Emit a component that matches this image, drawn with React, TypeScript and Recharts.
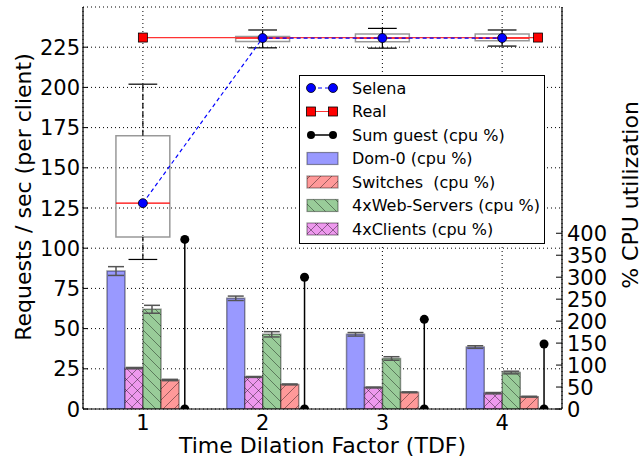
import React from 'react';
import {
  ComposedChart, Bar, Line, XAxis, YAxis, CartesianGrid, ErrorBar,
  ReferenceArea, ReferenceLine, Legend,
} from 'recharts';

// ---------- data ----------
const tdf = ['1', '2', '3', '4'];
const tdfNum = [1, 2, 3, 4];
const dom0 = [314, 252, 170, 141];
const dom0Err = [10, 5, 4, 3];
const clients = [93, 73, 49, 36];
const clientsErr = [1.5, 1, 1, 1.5];
const webServers = [227, 170, 115, 83];
const webErr = [9, 6, 4, 3];
const switches = [66, 56, 38, 28];
const switchesErr = [1.5, 1, 1, 1];
const sumGuest = [386, 300, 204, 148];
const stemX = [1.35, 2.35, 3.35, 4.35];
const selena = [128, 230.7, 230.7, 230.7];
const realX = [1, 4.3];
const realY = [231, 231];
const boxLow = [93, 224.6, 224.4, 225.7];
const boxQ1 = [107, 228.6, 228.4, 229.0];
const boxMed = [128, 230.7, 230.7, 230.7];
const boxQ3 = [170, 231.7, 233.2, 233.2];
const boxHigh = [202, 235.7, 236.7, 235.7];
const rpsTicks = [0, 25, 50, 75, 100, 125, 150, 175, 200, 225];
const cpuTicks = [0, 50, 100, 150, 200, 250, 300, 350, 400];

const BOX_HALF = 0.225;
const CAP_HALF = 0.12;
const FONT = 'DejaVu Sans';
const TICK_FS = 21;
const LABEL_FS = 22;

const rows = tdf.map((t, i) => ({
  tdf: t,
  dom0: dom0[i], dom0Err: dom0Err[i],
  clients: clients[i], clientsErr: clientsErr[i],
  web: webServers[i], webErr: webErr[i],
  switches: switches[i], switchesErr: switchesErr[i],
}));
const selenaData = tdfNum.map((x, i) => ({ x, v: selena[i] }));
const realData = realX.map((x, i) => ({ x, v: realY[i] }));

const C_BLUE = '#9999ff';
const C_RED = '#ff9999';
const C_GREEN = '#99cc99';
const C_PURPLE = '#ee99ee';
const EDGE = 'rgba(0,0,0,0.4)';

const LeftTick = (p: any) => (
  <g>
    <line x1={p.x + 3} x2={p.x + 8} y1={p.y} y2={p.y} stroke="#000" />
    <text x={p.x} y={p.y} dy="0.36em" textAnchor="end" fontSize={TICK_FS} fontFamily={FONT} fill="#000">
      {p.payload.value}
    </text>
  </g>
);
const RightTick = (p: any) => (
  <g>
    <line x1={p.x - 5} x2={p.x - 11} y1={p.y} y2={p.y} stroke="#000" />
    <text x={p.x} y={p.y} dy="0.36em" textAnchor="start" fontSize={TICK_FS} fontFamily={FONT} fill="#000">
      {p.payload.value}
    </text>
  </g>
);
const BottomTick = (p: any) => (
  <text x={p.x} y={p.y} dy={21} textAnchor="middle" fontSize={TICK_FS} fontFamily={FONT} fill="#000">
    {p.payload.value}
  </text>
);

const BlueDot = (p: any) =>
  p.cx == null ? <g key={p.index} /> : (
    <circle key={p.index} cx={p.cx} cy={p.cy} r={4.5} fill="#0000ff" stroke="#000" strokeWidth={0.8} />
  );
const RedSquare = (p: any) =>
  p.cx == null ? <g key={p.index} /> : (
    <rect key={p.index} x={p.cx - 4.5} y={p.cy - 4.5} width={9} height={9} fill="#ff0000" stroke="#000" strokeWidth={0.8} />
  );
const BlackDot = (p: any) =>
  p.cx == null ? <g key={p.index} /> : (
    <circle key={p.index} cx={p.cx} cy={p.cy} r={4.5} fill="#000" />
  );

const legendItems = [
  { kind: 'blue', label: 'Selena' },
  { kind: 'real', label: 'Real' },
  { kind: 'sum', label: 'Sum guest (cpu %)' },
  { kind: 'bar', fill: C_BLUE, label: 'Dom-0 (cpu %)' },
  { kind: 'bar', fill: 'url(#hFwd)', label: 'Switches  (cpu %)' },
  { kind: 'bar', fill: 'url(#hBack)', label: '4xWeb-Servers (cpu %)' },
  { kind: 'bar', fill: 'url(#hCross)', label: '4xClients (cpu %)' },
];

const LegendBox = () => (
  <div style={{ width: 246, height: 169, border: '1px solid #000', background: '#fff', boxSizing: 'border-box' }}>
    <svg width={244} height={167} style={{ display: 'block' }}>
      {legendItems.map((it, i) => {
        const cy = 12 + i * 23.5;
        let icon: React.ReactNode = null;
        if (it.kind === 'blue') {
          icon = (
            <g>
              <line x1={11} x2={33} y1={cy} y2={cy} stroke="#0000ff" strokeDasharray="4 3" />
              <circle cx={11} cy={cy} r={4.5} fill="#0000ff" stroke="#000" strokeWidth={0.8} />
              <circle cx={33} cy={cy} r={4.5} fill="#0000ff" stroke="#000" strokeWidth={0.8} />
            </g>
          );
        } else if (it.kind === 'real') {
          icon = (
            <g>
              <line x1={11} x2={33} y1={cy} y2={cy} stroke="#ff3333" />
              <rect x={6.5} y={cy - 4.5} width={9} height={9} fill="#ff0000" stroke="#000" strokeWidth={0.8} />
              <rect x={28.5} y={cy - 4.5} width={9} height={9} fill="#ff0000" stroke="#000" strokeWidth={0.8} />
            </g>
          );
        } else if (it.kind === 'sum') {
          icon = (
            <g>
              <line x1={11} x2={33} y1={cy} y2={cy} stroke="#000" strokeWidth={1.5} />
              <circle cx={11} cy={cy} r={4} fill="#000" />
              <circle cx={33} cy={cy} r={4} fill="#000" />
            </g>
          );
        } else {
          icon = <rect x={7} y={cy - 6} width={31} height={12} fill={it.fill} stroke={EDGE} strokeWidth={1.2} />;
        }
        return (
          <g key={i}>
            {icon}
            <text x={52} y={cy} dy="0.36em" fontSize={16} fontFamily={FONT} fill="#000" style={{ whiteSpace: 'pre' }}>
              {it.label}
            </text>
          </g>
        );
      })}
    </svg>
  </div>
);

export default function App() {
  return (
    <div style={{ position: 'absolute', left: 0, top: 0, background: '#fff' }}>
      <ComposedChart
        width={642}
        height={462}
        data={rows}
        margin={{ top: 7, right: 0, bottom: 0, left: 0 }}
        barGap={0}
        barSize={18}
      >
        <defs>
          <pattern id="hFwd" patternUnits="userSpaceOnUse" width={11} height={11}>
            <rect width={11} height={11} fill={C_RED} />
            <path d="M0,11 L11,0 M-3,3 L3,-3 M8,14 L14,8" stroke="#000" strokeOpacity={0.4} strokeWidth={1} />
          </pattern>
          <pattern id="hBack" patternUnits="userSpaceOnUse" width={11} height={11}>
            <rect width={11} height={11} fill={C_GREEN} />
            <path d="M0,0 L11,11 M-3,8 L3,14 M8,-3 L14,3" stroke="#000" strokeOpacity={0.4} strokeWidth={1} />
          </pattern>
          <pattern id="hCross" patternUnits="userSpaceOnUse" width={11} height={11}>
            <rect width={11} height={11} fill={C_PURPLE} />
            <path d="M0,11 L11,0 M-3,3 L3,-3 M8,14 L14,8 M0,0 L11,11 M-3,8 L3,14 M8,-3 L14,3" stroke="#000" strokeOpacity={0.4} strokeWidth={1} />
          </pattern>
        </defs>

        <XAxis
          xAxisId="cat" dataKey="tdf" type="category" height={53} interval={0}
          axisLine={{ stroke: '#000', strokeWidth: 1.2 }} tickLine={false} tickSize={0} tickMargin={0}
          tick={<BottomTick />}
          label={{
            content: (p: any) => {
              const vb = p.viewBox || { x: 83, y: 409, width: 479 };
              return (
                <text x={vb.x + vb.width / 2} y={vb.y + 44} textAnchor="middle" fontSize={LABEL_FS} fontFamily={FONT} fill="#000">
                  Time Dilation Factor (TDF)
                </text>
              );
            },
          }}
        />
        <XAxis
          xAxisId="num" dataKey="x" type="number" orientation="top" height={0}
          domain={[0.5, 4.5]} allowDataOverflow tick={false} tickLine={false}
          axisLine={{ stroke: '#000', strokeWidth: 1.2 }}
        />
        <YAxis
          yAxisId="left" orientation="left" width={83} domain={[0, 250]} ticks={rpsTicks} interval={0}
          type="number" allowDataOverflow tickSize={0} tickMargin={3} tickLine={false}
          axisLine={{ stroke: '#000', strokeWidth: 1.2 }} tick={<LeftTick />}
          label={{
            content: () => {
              const cx = 23;
              const cy = 197;
              return (
                <text x={cx} y={cy} transform={`rotate(-90 ${cx} ${cy})`} textAnchor="middle" dominantBaseline="central" fontSize={LABEL_FS} fontFamily={FONT} fill="#000">
                  Requests / sec (per client)
                </text>
              );
            },
          }}
        />
        <YAxis
          yAxisId="right" orientation="right" width={80} domain={[0, 915]} ticks={cpuTicks} interval={0}
          type="number" allowDataOverflow tickSize={0} tickMargin={5} tickLine={false}
          axisLine={{ stroke: '#000', strokeWidth: 1.2 }} tick={<RightTick />}
          label={{
            content: (p: any) => {
              const vb = p.viewBox || { x: 562, y: 7, width: 80, height: 402 };
              const cx = vb.x + 68;
              const cy = 195;
              return (
                <text x={cx} y={cy} transform={`rotate(-90 ${cx} ${cy})`} textAnchor="middle" dominantBaseline="central" fontSize={LABEL_FS} fontFamily={FONT} fill="#000">
                  % CPU utilization
                </text>
              );
            },
          }}
        />

        <CartesianGrid xAxisId="cat" yAxisId="left" stroke="#000" strokeDasharray="1 3" strokeWidth={1} />

        <Bar xAxisId="cat" yAxisId="right" dataKey="dom0" fill={C_BLUE} stroke={EDGE} strokeWidth={1.5} isAnimationActive={false}>
          <ErrorBar dataKey="dom0Err" width={8} stroke="#555" strokeWidth={1.5} />
        </Bar>
        <Bar xAxisId="cat" yAxisId="right" dataKey="clients" fill="url(#hCross)" stroke={EDGE} strokeWidth={1.5} isAnimationActive={false}>
          <ErrorBar dataKey="clientsErr" width={8} stroke="#555" strokeWidth={1.5} />
        </Bar>
        <Bar xAxisId="cat" yAxisId="right" dataKey="web" fill="url(#hBack)" stroke={EDGE} strokeWidth={1.5} isAnimationActive={false}>
          <ErrorBar dataKey="webErr" width={8} stroke="#555" strokeWidth={1.5} />
        </Bar>
        <Bar xAxisId="cat" yAxisId="right" dataKey="switches" fill="url(#hFwd)" stroke={EDGE} strokeWidth={1.5} isAnimationActive={false}>
          <ErrorBar dataKey="switchesErr" width={8} stroke="#555" strokeWidth={1.5} />
        </Bar>

        {stemX.map((x, i) => (
          <Line
            key={`stem${i}`}
            xAxisId="num" yAxisId="right"
            data={[{ x, v: 0 }, { x, v: sumGuest[i] }]}
            dataKey="v" stroke="#000" strokeWidth={1.5}
            dot={BlackDot} activeDot={false} isAnimationActive={false}
          />
        ))}

        {tdfNum.map((t, i) => (
          <React.Fragment key={`box${i}`}>
            <ReferenceLine xAxisId="num" yAxisId="left" segment={[{ x: t, y: boxQ3[i] }, { x: t, y: boxHigh[i] }]} stroke="#000" strokeWidth={1.2} strokeDasharray="6 3" ifOverflow="visible" />
            <ReferenceLine xAxisId="num" yAxisId="left" segment={[{ x: t, y: boxLow[i] }, { x: t, y: boxQ1[i] }]} stroke="#000" strokeWidth={1.2} strokeDasharray="6 3" ifOverflow="visible" />
            <ReferenceLine xAxisId="num" yAxisId="left" segment={[{ x: t - CAP_HALF, y: boxHigh[i] }, { x: t + CAP_HALF, y: boxHigh[i] }]} stroke="#000" strokeWidth={1.2} ifOverflow="visible" />
            <ReferenceLine xAxisId="num" yAxisId="left" segment={[{ x: t - CAP_HALF, y: boxLow[i] }, { x: t + CAP_HALF, y: boxLow[i] }]} stroke="#000" strokeWidth={1.2} ifOverflow="visible" />
            <ReferenceArea xAxisId="num" yAxisId="left" x1={t - BOX_HALF} x2={t + BOX_HALF} y1={boxQ1[i]} y2={boxQ3[i]} fill="none" fillOpacity={0} stroke="#999" strokeWidth={1.5} ifOverflow="visible" />
            <ReferenceLine xAxisId="num" yAxisId="left" segment={[{ x: t - BOX_HALF, y: boxMed[i] }, { x: t + BOX_HALF, y: boxMed[i] }]} stroke="#ff0000" strokeWidth={1.2} ifOverflow="visible" />
          </React.Fragment>
        ))}

        <Line
          xAxisId="num" yAxisId="left" data={realData} dataKey="v"
          stroke="#ff3333" strokeWidth={1.2} dot={RedSquare} activeDot={false} isAnimationActive={false}
        />
        <Line
          xAxisId="num" yAxisId="left" data={selenaData} dataKey="v"
          stroke="#0000ff" strokeWidth={1.2} strokeDasharray="4 3" dot={BlueDot} activeDot={false} isAnimationActive={false}
        />

        <Legend
          layout="horizontal" verticalAlign="middle" align="center"
          wrapperStyle={{ left: 299, top: 75, width: 246, height: 169 }}
          content={() => <LegendBox />}
        />
      </ComposedChart>
    </div>
  );
}
